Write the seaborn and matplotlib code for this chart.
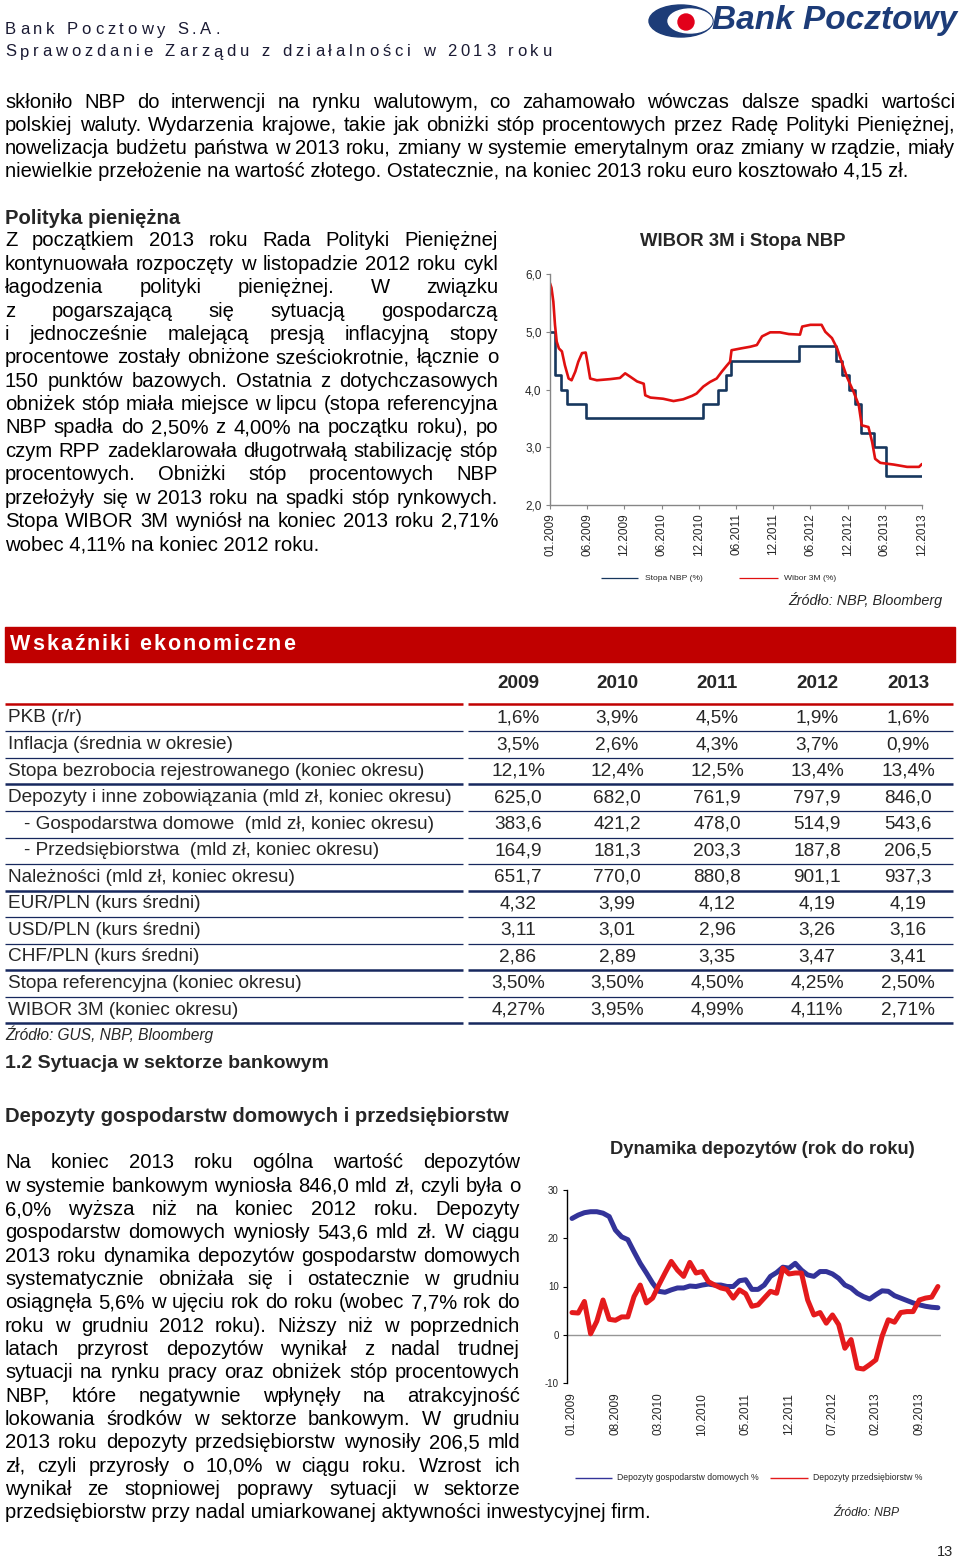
import matplotlib
matplotlib.use('Agg')
import matplotlib.pyplot as plt
import seaborn as sns
import pandas as pd
from matplotlib import font_manager
from matplotlib.lines import Line2D
from matplotlib.patches import Rectangle, Ellipse

# --- data: WIBOR 3M i stopa NBP ---
nbp_t = [2009.0, 2009.07, 2009.15, 2009.23, 2009.49, 2011.05, 2011.26, 2011.36, 2011.43,
         2012.35, 2012.85, 2012.93, 2013.02, 2013.10, 2013.18, 2013.35, 2013.51, 2014.0]
nbp_rate = [5.00, 4.25, 4.00, 3.75, 3.50, 3.75, 4.00, 4.25, 4.50,
            4.75, 4.50, 4.25, 4.00, 3.75, 3.25, 3.00, 2.50, 2.50]
wibor_t = [2009.0, 2009.02, 2009.045, 2009.067, 2009.09, 2009.12, 2009.16, 2009.20, 2009.25, 2009.29,
           2009.34, 2009.38, 2009.43, 2009.48, 2009.51, 2009.54, 2009.63, 2009.81, 2009.94, 2010.01,
           2010.08, 2010.17, 2010.26, 2010.28, 2010.35, 2010.52, 2010.66, 2010.79, 2010.91, 2010.97,
           2011.06, 2011.15, 2011.24, 2011.31, 2011.38, 2011.42, 2011.44, 2011.56, 2011.69, 2011.78,
           2011.85, 2011.96, 2012.09, 2012.21, 2012.36, 2012.39, 2012.50, 2012.65, 2012.70, 2012.79,
           2012.86, 2012.92, 2012.99, 2013.08, 2013.15, 2013.19, 2013.28, 2013.33, 2013.37, 2013.44,
           2013.62, 2013.80, 2013.96, 2014.0]
wibor_rate = [5.84, 5.76, 5.52, 5.12, 4.83, 4.71, 4.66, 4.42, 4.19, 4.16,
              4.31, 4.48, 4.63, 4.64, 4.42, 4.19, 4.16, 4.18, 4.20, 4.28,
              4.22, 4.14, 4.10, 3.90, 3.86, 3.84, 3.80, 3.83, 3.89, 3.93,
              4.05, 4.13, 4.19, 4.31, 4.42, 4.48, 4.68, 4.71, 4.74, 4.77,
              4.92, 4.99, 4.99, 4.96, 4.95, 5.09, 5.12, 5.12, 5.00, 4.89,
              4.71, 4.48, 4.22, 3.96, 3.73, 3.38, 3.35, 3.09, 2.80, 2.73,
              2.70, 2.66, 2.66, 2.71]
wibor_ticks = [2009.0, 2009.5, 2010.0, 2010.5, 2011.0, 2011.5, 2012.0, 2012.5, 2013.0, 2013.5, 2014.0]
wibor_labels = ['01.2009', '06.2009', '12.2009', '06.2010', '12.2010', '06.2011',
                '12.2011', '06.2012', '12.2012', '06.2013', '12.2013']

# --- data: dynamika depozytow (miesiecznie 01.2009 - 12.2013) ---
dep_households = [24.1, 24.8, 25.3, 25.5, 25.5, 25.2, 24.5, 21.7, 20.3, 19.7,
                  17.2, 14.8, 12.8, 10.7, 9.0, 8.8, 9.3, 9.7, 9.7, 10.1,
                  10.0, 10.3, 10.5, 10.3, 10.3, 10.0, 10.0, 11.2, 11.4, 9.4,
                  9.4, 10.3, 12.1, 12.9, 14.0, 13.8, 14.8, 13.4, 12.4, 12.1,
                  13.1, 13.1, 12.6, 11.7, 10.3, 9.7, 8.6, 7.9, 7.4, 8.3,
                  9.1, 9.0, 8.1, 7.6, 7.1, 6.6, 6.2, 5.9, 5.7, 5.6]
dep_companies = [4.6, 4.5, 6.9, 0.2, 2.8, 7.2, 3.2, 3.0, 3.7, 3.7,
                 7.9, 10.3, 6.6, 7.6, 10.3, 12.8, 15.2, 13.4, 12.1, 15.0,
                 12.8, 13.1, 11.0, 10.3, 9.7, 9.4, 7.6, 9.3, 8.5, 5.9,
                 6.2, 7.6, 9.0, 8.6, 13.8, 12.6, 12.8, 12.8, 7.2, 4.1,
                 4.6, 2.4, 4.1, 2.1, -2.8, -1.0, -6.9, -7.1, -6.2, -5.2,
                 -0.3, 3.1, 2.6, 4.6, 4.8, 4.8, 7.2, 7.6, 7.8, 10.0]
dep_ticks = [0, 7, 14, 21, 28, 35, 42, 49, 56]
dep_labels = ['01.2009', '08.2009', '03.2010', '10.2010', '05.2011',
              '12.2011', '07.2012', '02.2013', '09.2013']

# --- data: tabela wskaznikow ---
years = ['2009', '2010', '2011', '2012', '2013']
row_labels = ['PKB (r/r)', 'Inflacja (średnia w okresie)',
              'Stopa bezrobocia rejestrowanego (koniec okresu)',
              'Depozyty i inne zobowiązania (mld zł, koniec okresu)',
              '- Gospodarstwa domowe  (mld zł, koniec okresu)',
              '- Przedsiębiorstwa  (mld zł, koniec okresu)',
              'Należności (mld zł, koniec okresu)',
              'EUR/PLN (kurs średni)', 'USD/PLN (kurs średni)', 'CHF/PLN (kurs średni)',
              'Stopa referencyjna (koniec okresu)', 'WIBOR 3M (koniec okresu)']
vals_2009 = ['1,6%', '3,5%', '12,1%', '625,0', '383,6', '164,9', '651,7', '4,32', '3,11', '2,86', '3,50%', '4,27%']
vals_2010 = ['3,9%', '2,6%', '12,4%', '682,0', '421,2', '181,3', '770,0', '3,99', '3,01', '2,89', '3,50%', '3,95%']
vals_2011 = ['4,5%', '4,3%', '12,5%', '761,9', '478,0', '203,3', '880,8', '4,12', '2,96', '3,35', '4,50%', '4,99%']
vals_2012 = ['1,9%', '3,7%', '13,4%', '797,9', '514,9', '187,8', '901,1', '4,19', '3,26', '3,47', '4,25%', '4,11%']
vals_2013 = ['1,6%', '0,9%', '13,4%', '846,0', '543,6', '206,5', '937,3', '4,19', '3,16', '3,41', '2,50%', '2,71%']

# --- text ---
top_para = [
    'skłoniło NBP do interwencji na rynku walutowym, co zahamowało wówczas dalsze spadki wartości',
    'polskiej waluty. Wydarzenia krajowe, takie jak obniżki stóp procentowych przez Radę Polityki Pieniężnej,',
    'nowelizacja budżetu państwa w 2013 roku, zmiany w systemie emerytalnym oraz zmiany w rządzie, miały',
    'niewielkie przełożenie na wartość złotego. Ostatecznie, na koniec 2013 roku euro kosztowało 4,15 zł.',
]
policy_para = [
    'Z początkiem 2013 roku Rada Polityki Pieniężnej',
    'kontynuowała rozpoczęty w listopadzie 2012 roku cykl',
    'łagodzenia polityki pieniężnej. W związku',
    'z pogarszającą się sytuacją gospodarczą',
    'i jednocześnie malejącą presją inflacyjną stopy',
    'procentowe zostały obniżone sześciokrotnie, łącznie o',
    '150 punktów bazowych. Ostatnia z dotychczasowych',
    'obniżek stóp miała miejsce w lipcu (stopa referencyjna',
    'NBP spadła do 2,50% z 4,00% na początku roku), po',
    'czym RPP zadeklarowała długotrwałą stabilizację stóp',
    'procentowych. Obniżki stóp procentowych NBP',
    'przełożyły się w 2013 roku na spadki stóp rynkowych.',
    'Stopa WIBOR 3M wyniósł na koniec 2013 roku 2,71%',
    'wobec 4,11% na koniec 2012 roku.',
]
deposit_para = [
    'Na koniec 2013 roku ogólna wartość depozytów',
    'w systemie bankowym wyniosła 846,0 mld zł, czyli była o',
    '6,0% wyższa niż na koniec 2012 roku. Depozyty',
    'gospodarstw domowych wyniosły 543,6 mld zł. W ciągu',
    '2013 roku dynamika depozytów gospodarstw domowych',
    'systematycznie obniżała się i ostatecznie w grudniu',
    'osiągnęła 5,6% w ujęciu rok do roku (wobec 7,7% rok do',
    'roku w grudniu 2012 roku). Niższy niż w poprzednich',
    'latach przyrost depozytów wynikał z nadal trudnej',
    'sytuacji na rynku pracy oraz obniżek stóp procentowych',
    'NBP, które negatywnie wpłynęły na atrakcyjność',
    'lokowania środków w sektorze bankowym. W grudniu',
    '2013 roku depozyty przedsiębiorstw wynosiły 206,5 mld',
    'zł, czyli przyrosły o 10,0% w ciągu roku. Wzrost ich',
    'wynikał ze stopniowej poprawy sytuacji w sektorze',
    'przedsiębiorstw przy nadal umiarkowanej aktywności inwestycyjnej firm.',
]

W, H = 960, 1560
NAVY = '#17285e'
RED = '#c00000'
BODY = 14.6

sns.set_theme(style='white')
plt.rcParams['font.family'] = ['Liberation Sans', 'DejaVu Sans']


def has_font(name):
    try:
        font_manager.findfont(name, fallback_to_default=False)
        return True
    except Exception:
        return False


NARROW = 'Liberation Sans Narrow' if has_font('Liberation Sans Narrow') else 'Liberation Sans'

fig = plt.figure(figsize=(9.6, 15.6), dpi=100)
fig.patch.set_facecolor('white')
renderer = fig.canvas.get_renderer()


def fx(x):
    return x / W


def fy(y):
    return 1 - y / H


def put_line(x0, x1, y, s, size=13, justify=True, **kw):
    kw.setdefault('color', 'black')
    if not justify:
        fig.text(fx(x0), fy(y), s, fontsize=size, va='center', ha='left', **kw)
        return
    words = s.split()
    arts = [fig.text(0, fy(y), w, fontsize=size, va='center', ha='left', **kw) for w in words]
    widths = [a.get_window_extent(renderer=renderer).width for a in arts]
    gap = (x1 - x0 - sum(widths)) / max(len(words) - 1, 1)
    x = x0
    for a, w in zip(arts, widths):
        a.set_x(fx(x))
        x += w + gap


def tracked(x, y, s, size, track, **kw):
    for ch in s:
        if ch == ' ':
            x += size * 0.28 * 100 / 72 + track
            continue
        t = fig.text(fx(x), fy(y), ch, fontsize=size, va='center', ha='left', **kw)
        x += t.get_window_extent(renderer=renderer).width + track


def hline(x0, x1, y, color=NAVY, lw=1.0):
    fig.add_artist(Line2D([fx(x0), fx(x1)], [fy(y), fy(y)], transform=fig.transFigure,
                          color=color, lw=lw, solid_capstyle='butt'))


# header
tracked(5, 30, 'Bank Pocztowy S.A.', 12, 3.8, color='#1a1a33')
tracked(5, 52, 'Sprawozdanie Zarządu z działalności w 2013 roku', 12, 3.8, color='#1a1a33')

# logo
fig.add_artist(Ellipse((fx(681), fy(21)), 64 / W, 32 / H, transform=fig.transFigure, color='#1d3c78'))
fig.add_artist(Ellipse((fx(690), fy(21)), 44 / W, 24 / H, transform=fig.transFigure, color='white'))
fig.add_artist(Ellipse((fx(686), fy(22)), 16 / W, 16 / H, transform=fig.transFigure, color='#e2001a'))
fig.text(fx(712), fy(21), 'Bank Pocztowy', fontsize=24, fontweight='bold', fontstyle='italic',
         color='#1d3c78', va='center', ha='left')

# top paragraph
for i, s in enumerate(top_para):
    put_line(5, 955, 102 + i * 23.2, s, size=14.5, justify=(i < 3), family=[NARROW, 'DejaVu Sans'])

# monetary policy
fig.text(fx(5), fy(218), 'Polityka pieniężna', fontsize=14.6, fontweight='bold', va='center')
for i, s in enumerate(policy_para):
    put_line(5, 498, 241 + i * 23.37, s, size=BODY, justify=(i < len(policy_para) - 1))

# WIBOR chart
fig.text(fx(743), fy(241), 'WIBOR 3M i Stopa NBP', fontsize=13.3, fontweight='bold', ha='center', va='center')
ax1 = fig.add_axes([fx(550), fy(505), (922 - 550) / W, (505 - 274) / H])
rates = pd.DataFrame({'t': nbp_t, 'v': nbp_rate})
wib = pd.DataFrame({'t': wibor_t, 'v': wibor_rate})
sns.lineplot(data=rates, x='t', y='v', ax=ax1, color='#17375e', linewidth=1.9, drawstyle='steps-post')
sns.lineplot(data=wib, x='t', y='v', ax=ax1, color='#e01010', linewidth=1.9)
ax1.set_xlim(2009.0, 2014.0)
ax1.set_ylim(2.0, 6.0)
ax1.set_yticks([2, 3, 4, 5, 6])
ax1.set_yticklabels(['2,0', '3,0', '4,0', '5,0', '6,0'])
ax1.set_xticks(wibor_ticks)
ax1.set_xticklabels(wibor_labels, rotation=90)
ax1.set_xlabel('')
ax1.set_ylabel('')
for side in ['top', 'right']:
    ax1.spines[side].set_visible(False)
for side in ['left', 'bottom']:
    ax1.spines[side].set_color('#868686')
    ax1.spines[side].set_linewidth(1.0)
ax1.tick_params(left=True, bottom=True, direction='out', length=3, width=0.8, color='#868686',
                labelsize=8.5, pad=3)
ax1.set_facecolor('none')

hline(601, 638, 578, color='#17375e', lw=0.9)
fig.text(fx(645), fy(578), 'Stopa NBP (%)', fontsize=6.1, va='center')
hline(739, 778, 578, color='#e01010', lw=0.9)
fig.text(fx(784), fy(578), 'Wibor 3M (%)', fontsize=6.1, va='center')
fig.text(fx(942), fy(600), 'Źródło: NBP, Bloomberg', fontsize=10.4, fontstyle='italic', ha='right', va='center')

# economic indicators
fig.add_artist(Rectangle((fx(5), fy(662)), 950 / W, 35 / H, transform=fig.transFigure, color=RED))
tracked(10, 645, 'Wskaźniki ekonomiczne', 15.5, 1.9, color='white', fontweight='bold')

TBL = 13.7
col_x = [518, 617, 717, 817, 908]
for x, yr in zip(col_x, years):
    fig.text(fx(x), fy(684), yr, fontsize=TBL, fontweight='bold', ha='center', va='center')
hline(5, 463, 704, color=RED, lw=1.8)
hline(468, 953, 704, color=RED, lw=1.8)

columns = [vals_2009, vals_2010, vals_2011, vals_2012, vals_2013]
thick_after = {2, 6, 9, 11}
for i, lab in enumerate(row_labels):
    yc = 718 + i * 26.55
    lx = 24 if lab.startswith('-') else 8
    fig.text(fx(lx), fy(yc), lab, fontsize=TBL, va='center', ha='left')
    for x, col in zip(col_x, columns):
        fig.text(fx(x), fy(yc), col[i], fontsize=TBL, va='center', ha='center')
    lw = 1.8 if i in thick_after else 0.9
    hline(5, 463, yc + 13.3, lw=lw)
    hline(468, 953, yc + 13.3, lw=lw)

fig.text(fx(5), fy(1034), 'Źródło: GUS, NBP, Bloomberg', fontsize=11.2, fontstyle='italic', va='center')
fig.text(fx(5), fy(1064), '1.2 Sytuacja w sektorze bankowym', fontsize=14, fontweight='bold', va='center')
fig.text(fx(5), fy(1116), 'Depozyty gospodarstw domowych i przedsiębiorstw', fontsize=14.6,
         fontweight='bold', va='center')

for i, s in enumerate(deposit_para):
    put_line(5, 520, 1163 + i * 23.33, s, size=BODY, justify=(i < len(deposit_para) - 1))

# deposit dynamics chart
fig.text(fx(762), fy(1150), 'Dynamika depozytów (rok do roku)', fontsize=13.2, fontweight='bold',
         ha='center', va='center')
ax2 = fig.add_axes([fx(567), fy(1383), (941 - 567) / W, (1383 - 1190) / H])
months = list(range(len(dep_households)))
dep = pd.DataFrame({'m': months, 'hh': dep_households, 'co': dep_companies})
ax2.axhline(0, color='#969696', lw=1.0, zorder=1)
sns.lineplot(data=dep, x='m', y='hh', ax=ax2, color='#333399', linewidth=3.6, zorder=3)
sns.lineplot(data=dep, x='m', y='co', ax=ax2, color='#e41a1c', linewidth=3.6, zorder=4)
ax2.set_xlim(-0.806, 59.5)
ax2.set_ylim(-10, 30)
ax2.set_yticks([-10, 0, 10, 20, 30])
ax2.set_yticklabels(['-10', '0', '10', '20', '30'])
ax2.set_xticks(dep_ticks)
ax2.set_xticklabels(dep_labels, rotation=90)
ax2.set_xlabel('')
ax2.set_ylabel('')
for side in ['top', 'right', 'bottom']:
    ax2.spines[side].set_visible(False)
ax2.spines['left'].set_color('black')
ax2.spines['left'].set_linewidth(1.0)
ax2.tick_params(axis='y', left=True, direction='out', length=3, width=0.8, color='black',
                labelsize=7, pad=3)
ax2.tick_params(axis='x', bottom=True, length=0, labelsize=8.5, pad=7)
ax2.set_facecolor('none')

hline(575, 612, 1478, color='#333399', lw=1.0)
fig.text(fx(617), fy(1478), 'Depozyty gospodarstw domowych %', fontsize=6.2, va='center')
hline(770, 808, 1478, color='#e41a1c', lw=1.0)
fig.text(fx(813), fy(1478), 'Depozyty przedsiębiorstw %', fontsize=6.2, va='center')
fig.text(fx(833), fy(1513), 'Źródło: NBP', fontsize=8.7, fontstyle='italic', va='center')

fig.text(fx(945), fy(1552), '13', fontsize=10.5, ha='center', va='center')

fig.savefig('out.png', dpi=100, facecolor='white')
